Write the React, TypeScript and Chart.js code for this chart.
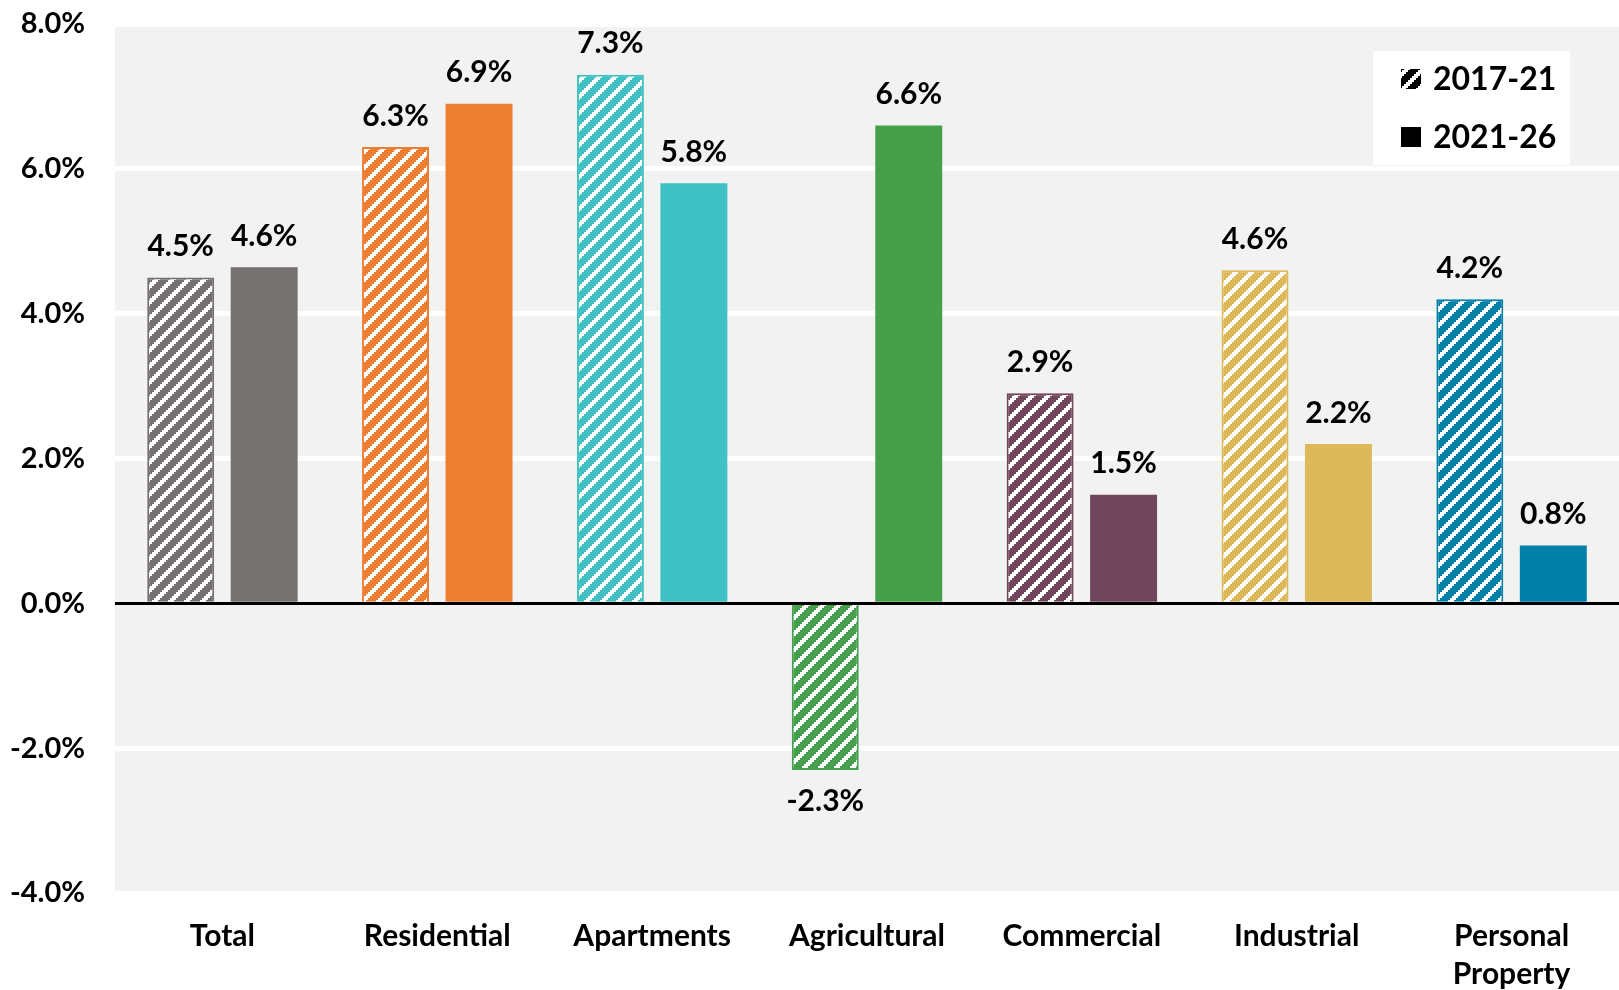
import React, { useEffect, useRef } from "react";
import { Chart, registerables } from "chart.js";

Chart.register(...registerables);

const categories: (string | string[])[] = [
  "Total",
  "Residential",
  "Apartments",
  "Agricultural",
  "Commercial",
  "Industrial",
  ["Personal", "Property"],
];
const seriesNames = ["2017-21", "2021-26"];
const values2017 = [4.5, 6.3, 7.3, -2.3, 2.9, 4.6, 4.2];
const values2021 = [4.64, 6.9, 5.8, 6.6, 1.5, 2.2, 0.8];
const categoryColors = ["#767171", "#ED7D31", "#40C1C4", "#46A04B", "#71465D", "#DDB95A", "#0080A8"];
const yTicks = [-4, -2, 0, 2, 4, 6, 8];

const FONT = 'Lato, "Open Sans", sans-serif';

function makeHatch(color: string): CanvasPattern | string {
  const tile = document.createElement("canvas");
  tile.width = 16;
  tile.height = 16;
  const c = tile.getContext("2d");
  if (!c) return color;
  c.fillStyle = color;
  c.fillRect(0, 0, 16, 16);
  c.fillStyle = "#ffffff";
  for (let y = 0; y < 16; y++) {
    for (let x = 0; x < 16; x++) {
      const v = (Math.floor(x / 2) + Math.floor(y / 2)) % 8;
      if (v < 3) c.fillRect(x, y, 1, 1);
    }
  }
  const p = c.createPattern(tile, "repeat");
  return p || color;
}

export default function App() {
  const ref = useRef<HTMLCanvasElement | null>(null);

  useEffect(() => {
    const canvas = ref.current;
    if (!canvas) return;
    const hatchFills = categoryColors.map((c) => makeHatch(c));
    const legendHatch = makeHatch("#000000");

    const bgPlugin = {
      id: "plotBg",
      beforeDraw(chart: any) {
        const { ctx, chartArea } = chart;
        ctx.save();
        ctx.fillStyle = "#F2F2F2";
        ctx.fillRect(chartArea.left, chartArea.top, chartArea.right - chartArea.left, chartArea.bottom - chartArea.top);
        ctx.restore();
      },
    };

    const labelPlugin = {
      id: "valueLabels",
      afterDatasetsDraw(chart: any) {
        const { ctx } = chart;
        ctx.save();
        ctx.font = `bold 30px ${FONT}`;
        ctx.fillStyle = "#000";
        ctx.textAlign = "center";
        ctx.textBaseline = "middle";
        chart.data.datasets.forEach((ds: any, i: number) => {
          const meta = chart.getDatasetMeta(i);
          meta.data.forEach((el: any, j: number) => {
            const v = ds.data[j] as number;
            const txt = v.toFixed(1) + "%";
            const y = v >= 0 ? el.y - 31 : el.y + 31;
            ctx.fillText(txt, el.x, y);
          });
        });
        ctx.restore();
      },
    };

    const legendPlugin = {
      id: "customLegend",
      afterDraw(chart: any) {
        const { ctx } = chart;
        ctx.save();
        ctx.fillStyle = "#ffffff";
        ctx.fillRect(1373, 51, 197, 114);
        const rows = [79, 137];
        seriesNames.forEach((name, i) => {
          const cy = rows[i];
          ctx.fillStyle = i === 0 ? legendHatch : "#000000";
          ctx.fillRect(1401, cy - 10, 20, 20);
          ctx.fillStyle = "#000";
          ctx.font = `bold 32px ${FONT}`;
          ctx.textAlign = "left";
          ctx.textBaseline = "middle";
          ctx.fillText(name, 1433, cy + 1);
        });
        ctx.restore();
      },
    };

    const chart = new Chart(canvas, {
      type: "bar",
      data: {
        labels: categories as any,
        datasets: [
          {
            label: seriesNames[0],
            data: values2017,
            backgroundColor: hatchFills as any,
            borderColor: categoryColors,
            borderWidth: 2,
            categoryPercentage: 0.777,
            barPercentage: 0.802,
          },
          {
            label: seriesNames[1],
            data: values2021,
            backgroundColor: categoryColors,
            borderWidth: 0,
            categoryPercentage: 0.777,
            barPercentage: 0.802,
          },
        ],
      },
      options: {
        responsive: false,
        animation: false,
        events: [],
        layout: { padding: { top: 24, left: 0, right: 0, bottom: 0 } },
        plugins: {
          legend: { display: false },
          tooltip: { enabled: false },
          title: { display: false },
        },
        scales: {
          x: {
            grid: { display: false, drawTicks: false },
            border: { display: false },
            ticks: {
              color: "#000",
              font: { family: FONT, size: 30, weight: "bold", lineHeight: 1.28 },
              padding: 24,
              maxRotation: 0,
              autoSkip: false,
            },
            afterFit(scale: any) {
              scale.height = 97;
            },
          },
          y: {
            min: yTicks[0],
            max: yTicks[yTicks.length - 1],
            afterBuildTicks(scale: any) {
              scale.ticks = yTicks.map((v) => ({ value: v }));
            },
            grid: {
              drawTicks: false,
              color: (ctx: any) => (ctx.tick && ctx.tick.value === 0 ? "#000000" : "#ffffff"),
              lineWidth: (ctx: any) => (ctx.tick && ctx.tick.value === 0 ? 3 : 5),
            },
            border: { display: false },
            ticks: {
              color: "#000",
              font: { family: FONT, size: 29, weight: "bold" },
              padding: 30,
              callback: (v: any) => Number(v).toFixed(1) + "%",
            },
            afterFit(scale: any) {
              scale.width = 115;
              scale.paddingTop = 0;
              scale.paddingBottom = 0;
            },
          },
        },
      },
      plugins: [bgPlugin, labelPlugin, legendPlugin],
    });

    return () => chart.destroy();
  }, []);

  return (
    <div style={{ position: "fixed", left: 0, top: 0, width: 1619, height: 990, background: "#fff" }}>
      <canvas ref={ref} width={1619} height={990} style={{ display: "block" }} />
    </div>
  );
}
